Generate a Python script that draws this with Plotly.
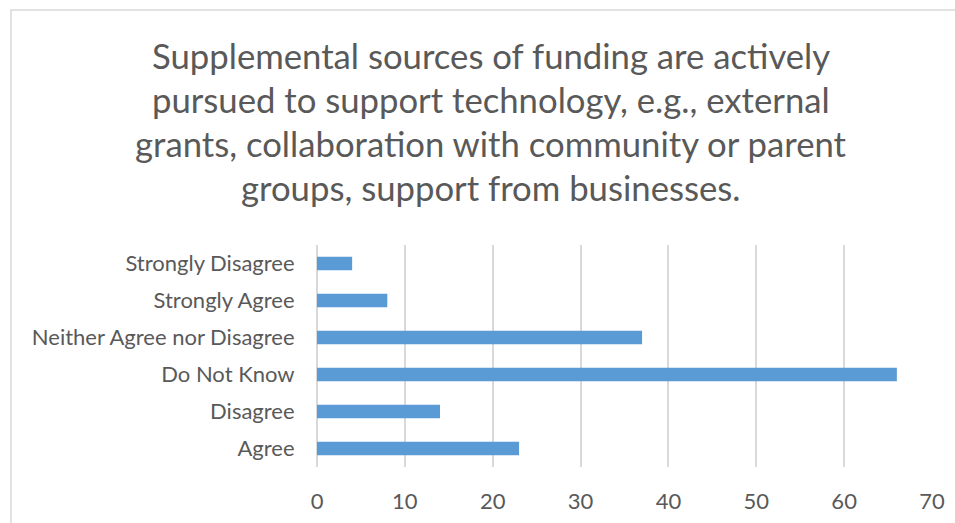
import plotly.graph_objects as go

# Survey responses (counts) for each answer option
categories = ["Agree", "Disagree", "Do Not Know", "Neither Agree nor Disagree",
              "Strongly Agree", "Strongly Disagree"]
counts = [23, 14, 66, 37, 8, 4]
x_ticks = [0, 10, 20, 30, 40, 50, 60, 70]
title_lines = [
    "Supplemental sources of funding are actively",
    "pursued to support technology, e.g., external",
    "grants, collaboration with community or parent",
    "groups, support from businesses.",
]

FONT = "Lato"
TEXT = "#595959"
GRID = "#D9D9D9"

W, H = 955, 523
L, R, T, B = 317, 23, 245, 56
pw, ph = W - L - R, H - T - B

def px_to_paper_x(px):
    return (px - L) / pw

def px_to_paper_y(py):
    return (H - B - py) / ph

fig = go.Figure(go.Bar(
    x=counts, y=categories, orientation="h",
    marker=dict(color="#5B9BD5", line=dict(width=0)),
    width=0.36,
))

annotations = []
for i, line in enumerate(title_lines):
    annotations.append(dict(
        text=line, xref="paper", yref="paper",
        x=px_to_paper_x(491), y=px_to_paper_y(55.5 + 44 * i),
        xanchor="center", yanchor="middle", showarrow=False,
        font=dict(family=FONT, size=34.7, color=TEXT),
    ))

fig.update_layout(
    width=W, height=H,
    margin=dict(l=L, r=R, t=T, b=B, autoexpand=False),
    paper_bgcolor="white", plot_bgcolor="white",
    showlegend=False,
    annotations=annotations,
    shapes=[dict(
        type="rect", xref="paper", yref="paper",
        x0=px_to_paper_x(11), y0=px_to_paper_y(600),
        x1=px_to_paper_x(1100), y1=px_to_paper_y(10),
        line=dict(color=GRID, width=1.5), fillcolor="rgba(0,0,0,0)", layer="below",
    )],
    xaxis=dict(
        range=[0, 70], tickvals=x_ticks, showgrid=True, automargin=False,
        gridcolor=GRID, gridwidth=1.5, zeroline=True, zerolinecolor=GRID,
        zerolinewidth=1.5, showline=False,
        ticks="outside", ticklen=15, tickcolor="rgba(0,0,0,0)",
        tickfont=dict(family=FONT, size=22, color=TEXT),
        fixedrange=True,
    ),
    yaxis=dict(
        categoryorder="array", categoryarray=categories, automargin=False,
        showgrid=False, showline=False, zeroline=False,
        ticks="outside", ticklen=17, tickcolor="rgba(0,0,0,0)",
        tickfont=dict(family=FONT, size=22, color=TEXT),
        fixedrange=True,
    ),
)

fig.write_html("out.html")
